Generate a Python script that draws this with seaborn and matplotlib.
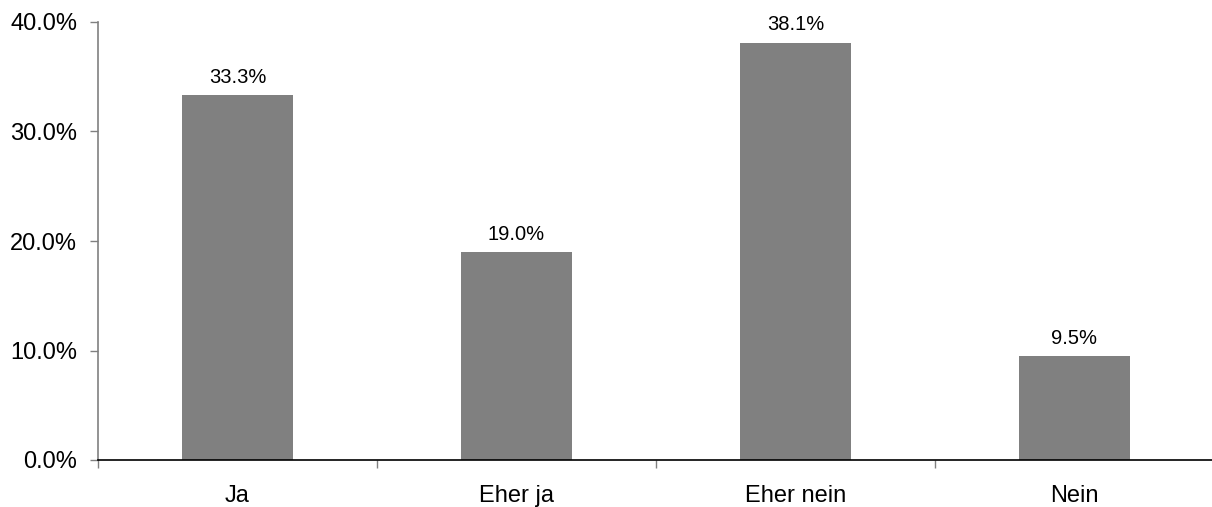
import matplotlib
matplotlib.use("Agg")
import matplotlib.pyplot as plt
import seaborn as sns
from matplotlib.ticker import FixedLocator, PercentFormatter

categories = ["Ja", "Eher ja", "Eher nein", "Nein"]
values = [33.3, 19.0, 38.1, 9.5]
value_labels = ["33.3%", "19.0%", "38.1%", "9.5%"]

sns.set_theme(style="white")
plt.rcParams["font.family"] = ["Liberation Sans", "DejaVu Sans"]

fig = plt.figure(figsize=(12.12, 5.07), dpi=100)
ax = fig.add_axes([98 / 1212, 47 / 507, 1116 / 1212, 438 / 507])

sns.barplot(x=categories, y=values, color="#808080", saturation=1,
            width=0.4, linewidth=0, ax=ax)

for patch, lab in zip(ax.patches, value_labels):
    ax.annotate(lab, (patch.get_x() + patch.get_width() / 2, patch.get_height()),
                xytext=(0, 6), textcoords="offset points",
                ha="center", va="bottom", fontsize=14.5, color="black")

ax.set_xlim(-0.5, 3.5)
ax.set_ylim(0, 40)
ax.set_yticks([0, 10, 20, 30, 40])
ax.yaxis.set_major_formatter(PercentFormatter(decimals=1))
ax.set_xlabel("")
ax.set_ylabel("")

ax.xaxis.set_minor_locator(FixedLocator([-0.5, 0.5, 1.5, 2.5]))
ax.tick_params(axis="x", which="major", length=0, pad=18, labelsize=17, labelcolor="black")
ax.tick_params(axis="x", which="minor", length=6, width=1, color="#808080", direction="out", bottom=True)
ax.tick_params(axis="y", which="major", length=6, width=1, color="#808080", direction="out",
               left=True, pad=9, labelsize=17, labelcolor="black")

for side in ["top", "right"]:
    ax.spines[side].set_visible(False)
ax.spines["left"].set_color("#808080")
ax.spines["left"].set_linewidth(1.2)
ax.spines["bottom"].set_color("black")
ax.spines["bottom"].set_linewidth(1.2)

fig.savefig("out.png", dpi=100, facecolor="white")
